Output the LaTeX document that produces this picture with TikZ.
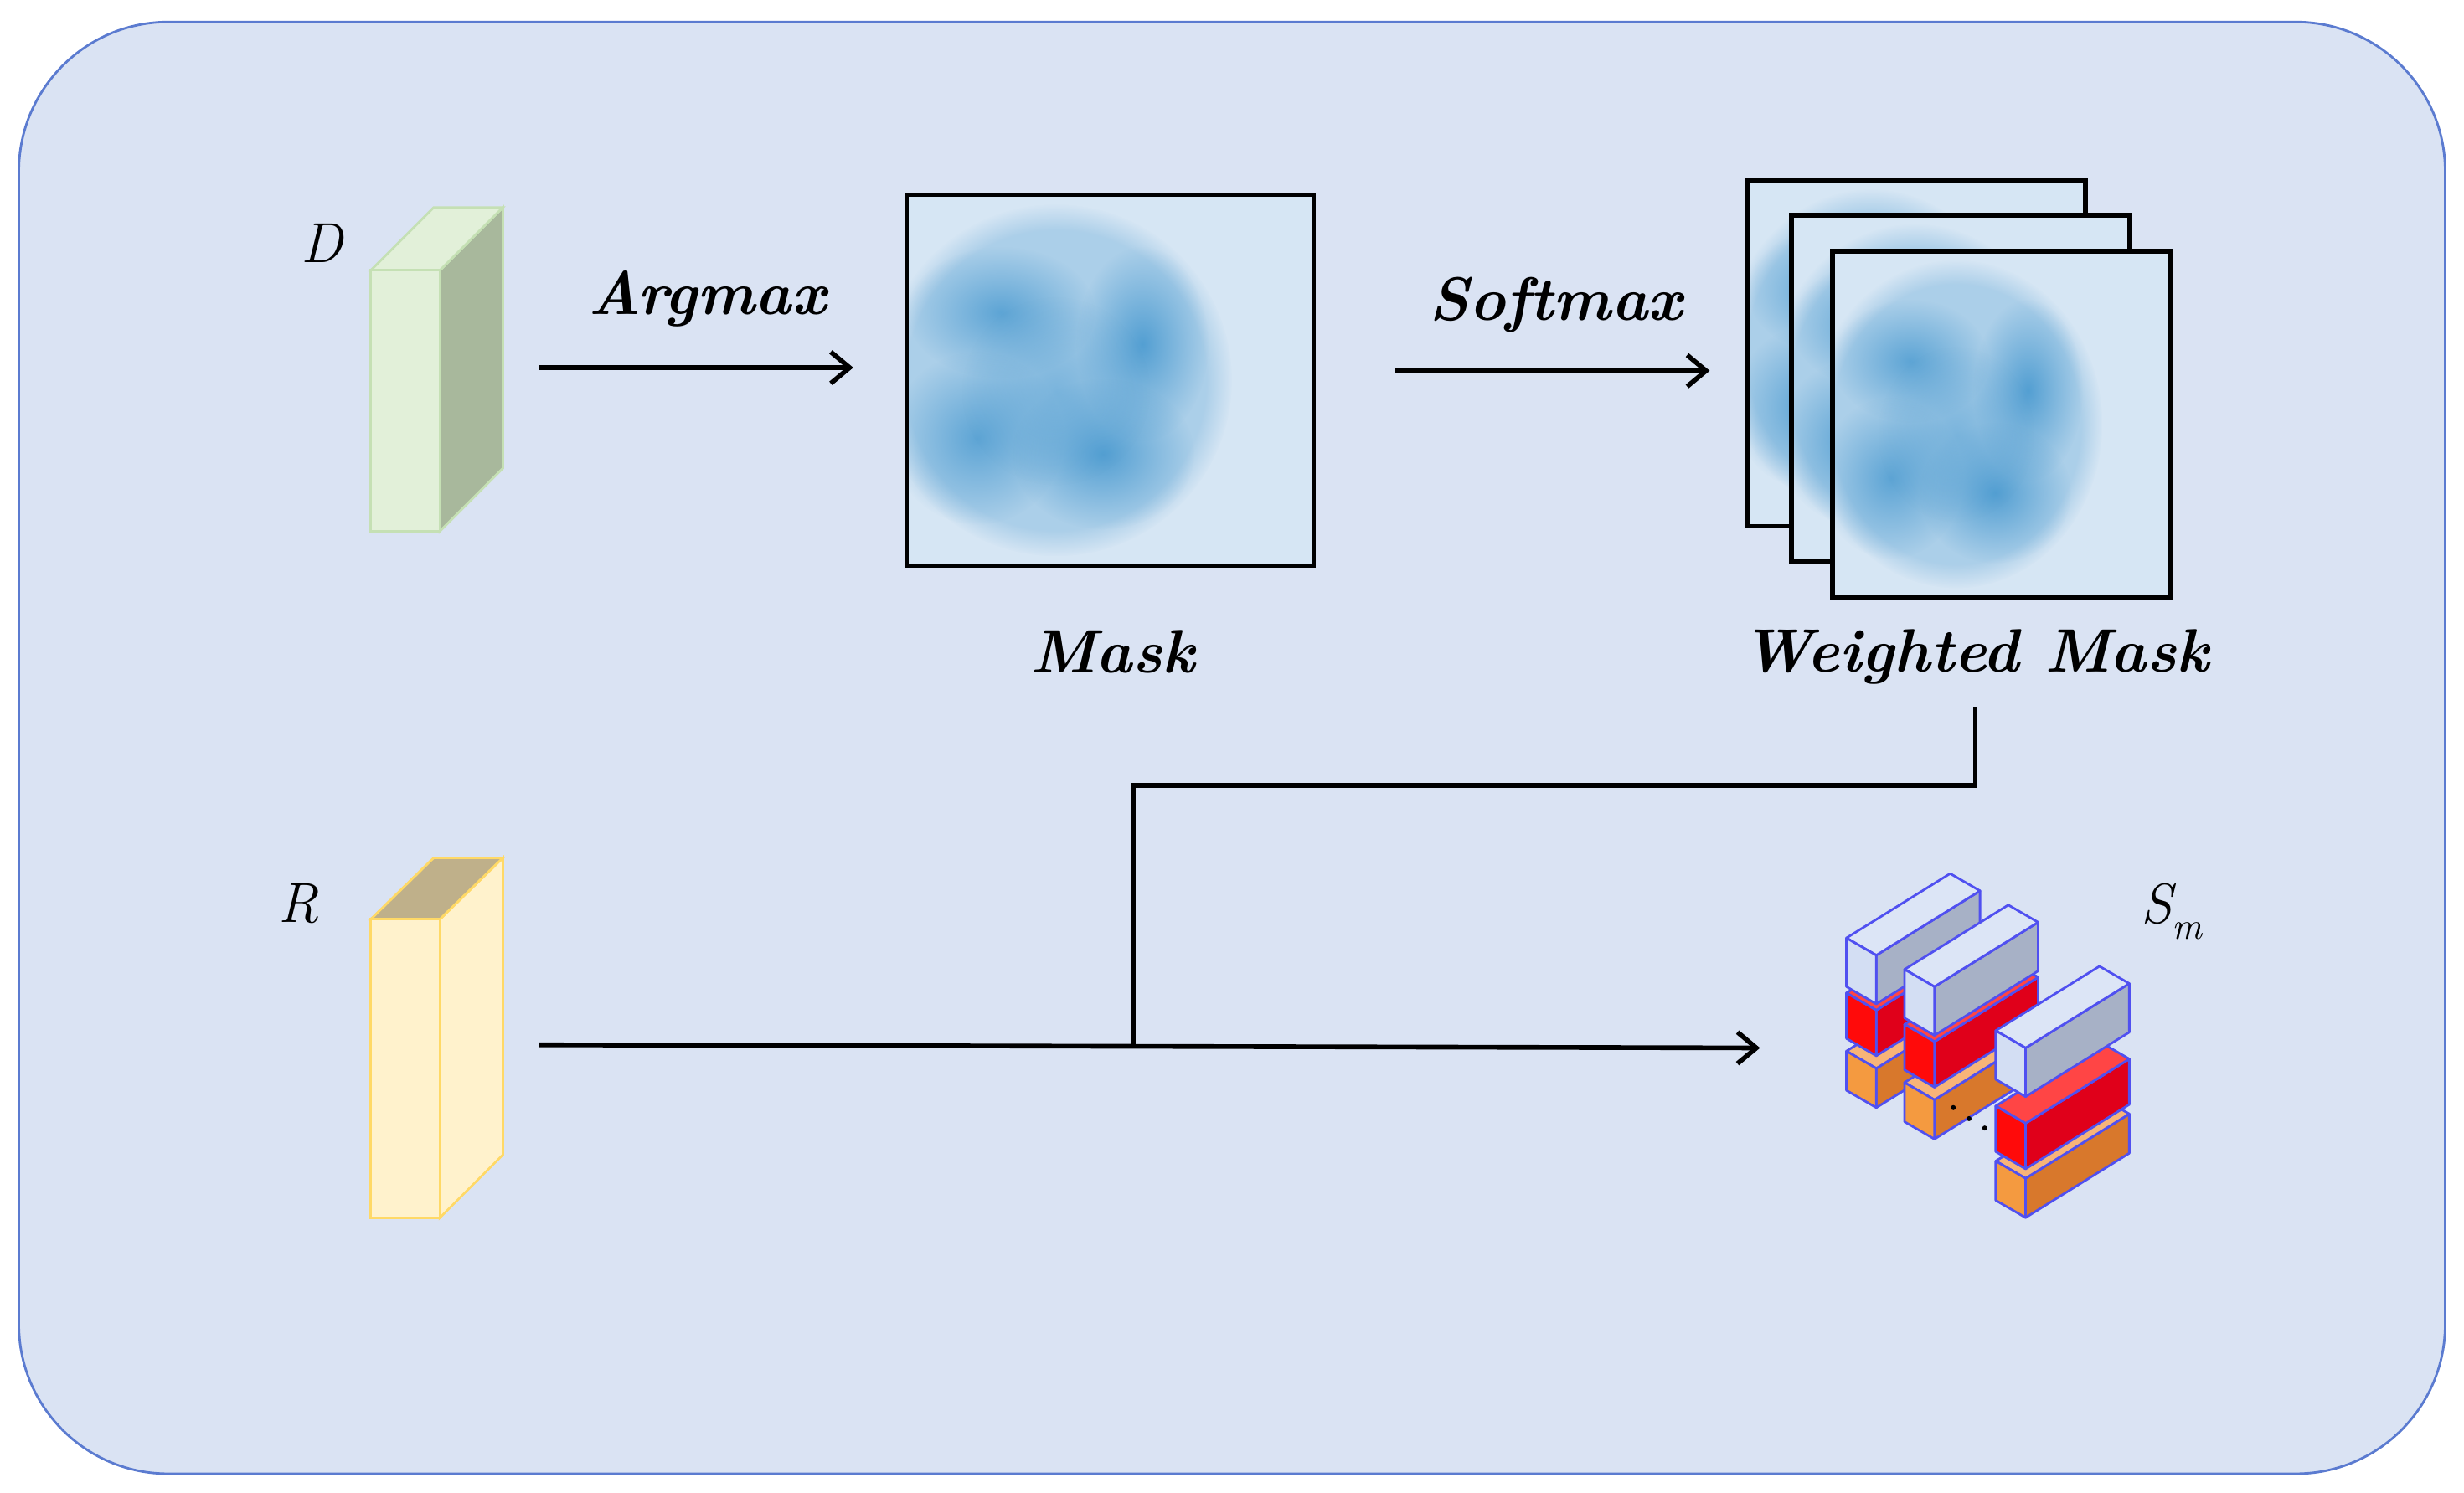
\documentclass[tikz,border=0pt]{standalone}
\usepackage{fontspec}
\usetikzlibrary{arrows.meta,fadings}
\definecolor{bgc}{HTML}{DAE3F3}
\definecolor{bgline}{HTML}{5B7BD0}
\definecolor{maskbg}{HTML}{D6E6F4}
\definecolor{blob}{HTML}{4A9AD0}
\definecolor{edgeb}{HTML}{5050F0}
\tikzset{
  arr/.style={line width=3pt,-{Straight Barb[length=12pt,width=20pt,line width=3pt]}},
  conn/.style={line width=3pt},
  lab/.style={font=\fontsize{39}{44}\selectfont\bfseries\itshape},
  mlab/.style={font=\fontsize{36}{40}\selectfont\itshape},
  frame/.style={line width=3pt,draw=black},
  fz/.style={blob,path fading=circle with fuzzy edge 15 percent},
}
\tikzfading[name=softblob, inner color=transparent!0, outer color=transparent!100]
\newcommand{\maskimg}[4]{% x y w h
 \begin{scope}[shift={(#1,#2)}]
  \begin{scope}[xscale=#3/259,yscale=#4/236]
   \clip (0,0) rectangle (259,236);
   \fill[maskbg] (0,0) rectangle (259,236);
   \fill[blob,fill opacity=0.3,path fading=circle with fuzzy edge 15 percent] (95,118) circle (112);
   \fill[blob,fill opacity=0.8,path fading=softblob] (60,75) ellipse (60 and 42);
   \fill[blob,fill opacity=0.9,path fading=softblob] (150,95) ellipse (42 and 62);
   \fill[blob,fill opacity=0.8,path fading=softblob] (45,155) circle (55);
   \fill[blob,fill opacity=0.9,path fading=softblob] (125,165) ellipse (58 and 48);
   \fill[blob,fill opacity=0.5,path fading=softblob] (95,125) circle (60);
  \end{scope}
  \draw[frame] (0,0) rectangle (#3,#4);
 \end{scope}}
% bar: x y h endcol topcol sidecol
\newcommand{\smbar}[6]{%
 \fill[#6,draw=edgeb,line width=1.5pt,line join=round] (#1+19,#2+11) -- ++(66,-41) -- ++(0,#3) -- ++(-66,41) -- cycle;
 \fill[#5,draw=edgeb,line width=1.5pt,line join=round] (#1,#2) -- ++(19,11) -- ++(66,-41) -- ++(-19,-11) -- cycle;
 \fill[#4,draw=edgeb,line width=1.5pt,line join=round] (#1,#2) -- ++(19,11) -- ++(0,#3) -- ++(-19,-11) -- cycle;}
\begin{document}
\begin{tikzpicture}[x=1pt,y=-1pt]
\useasboundingbox (0,0) rectangle (1568,950);
\fill[white] (0,0) rectangle (1568,950);
\draw[bgline,fill=bgc,line width=1.5pt,rounded corners=95pt] (12,14) rectangle (1556,938);
% D cuboid
\filldraw[draw={rgb,255:red,197;green,224;blue,180},fill={rgb,255:red,168;green,184;blue,156},line width=1.5pt] (280,172)--(320,132)--(320,298)--(280,338)--cycle;
\filldraw[draw={rgb,255:red,197;green,224;blue,180},fill={rgb,255:red,226;green,240;blue,217},line width=1.5pt] (236,172)--(280,172)--(320,132)--(276,132)--cycle;
\filldraw[draw={rgb,255:red,197;green,224;blue,180},fill={rgb,255:red,226;green,240;blue,217},line width=1.5pt] (236,172) rectangle (280,338);
\node[mlab] (D) at (205,155) {D};
% R cuboid
\filldraw[draw={rgb,255:red,255;green,217;blue,102},fill={rgb,255:red,255;green,242;blue,204},line width=1.5pt] (280,585)--(320,546)--(320,735)--(280,775)--cycle;
\filldraw[draw={rgb,255:red,255;green,217;blue,102},fill={rgb,255:red,191;green,176;blue,138},line width=1.5pt] (236,585)--(280,585)--(320,546)--(276,546)--cycle;
\filldraw[draw={rgb,255:red,255;green,217;blue,102},fill={rgb,255:red,255;green,242;blue,204},line width=1.5pt] (236,585) rectangle (280,775);
\node[mlab] (R) at (190,575) {R};
% mask
\maskimg{577}{124}{259}{236}
\node[lab] (mask) at (708,415) {Mask};
\coordinate (a1) at (343,234); \coordinate (a2) at (543,234);
\draw[arr] (a1) -- (a2);
\node[lab] (argmax) at (450,190) {Argmax};
\coordinate (s1) at (888,236); \coordinate (s2) at (1088,236);
\draw[arr] (s1) -- (s2);
\node[lab] (softmax) at (990,194) {Softmax};
% weighted mask
\maskimg{1112}{115}{215}{220}
\maskimg{1140}{137}{215}{220}
\maskimg{1166}{160}{215}{220}
\node[lab] (wmask) at (1257,418) {Weighted\ Mask};
% connectors
\coordinate (w0) at (1257,450);
\coordinate (j) at (721,665);
\coordinate (r0) at (343,665);
\coordinate (sm) at (1120,667);
\draw[conn] (w0) -- (1257,500) -- (721,500) -- (j);
\draw[arr] (r0) -- (sm);
% S_m bars
\definecolor{bE}{HTML}{D3DEF3}\definecolor{bT}{HTML}{DCE5F6}\definecolor{bS}{HTML}{A7B1C6}
\definecolor{rE}{HTML}{FF0A0A}\definecolor{rT}{HTML}{FF4545}\definecolor{rS}{HTML}{E0001A}
\definecolor{oE}{HTML}{F49A40}\definecolor{oT}{HTML}{F8B478}\definecolor{oS}{HTML}{D8782C}
\smbar{1175}{669}{25}{oE}{oT}{oS}
\smbar{1175}{632}{29}{rE}{rT}{rS}
\smbar{1175}{597}{31}{bE}{bT}{bS}
\smbar{1212}{689}{25}{oE}{oT}{oS}
\smbar{1212}{652}{29}{rE}{rT}{rS}
\smbar{1212}{617}{31}{bE}{bT}{bS}
\fill (1243,705) circle (1.6); \fill (1253,712) circle (1.6); \fill (1263,718) circle (1.6);
\smbar{1270}{739}{25}{oE}{oT}{oS}
\smbar{1270}{704}{29}{rE}{rT}{rS}
\smbar{1270}{656}{31}{bE}{bT}{bS}
\node[font=\fontsize{36}{40}\selectfont\itshape,inner sep=0pt] (S) at (1382,580) {S\raisebox{-10pt}{\fontsize{24}{26}\selectfont m}};
\end{tikzpicture}
\end{document}
